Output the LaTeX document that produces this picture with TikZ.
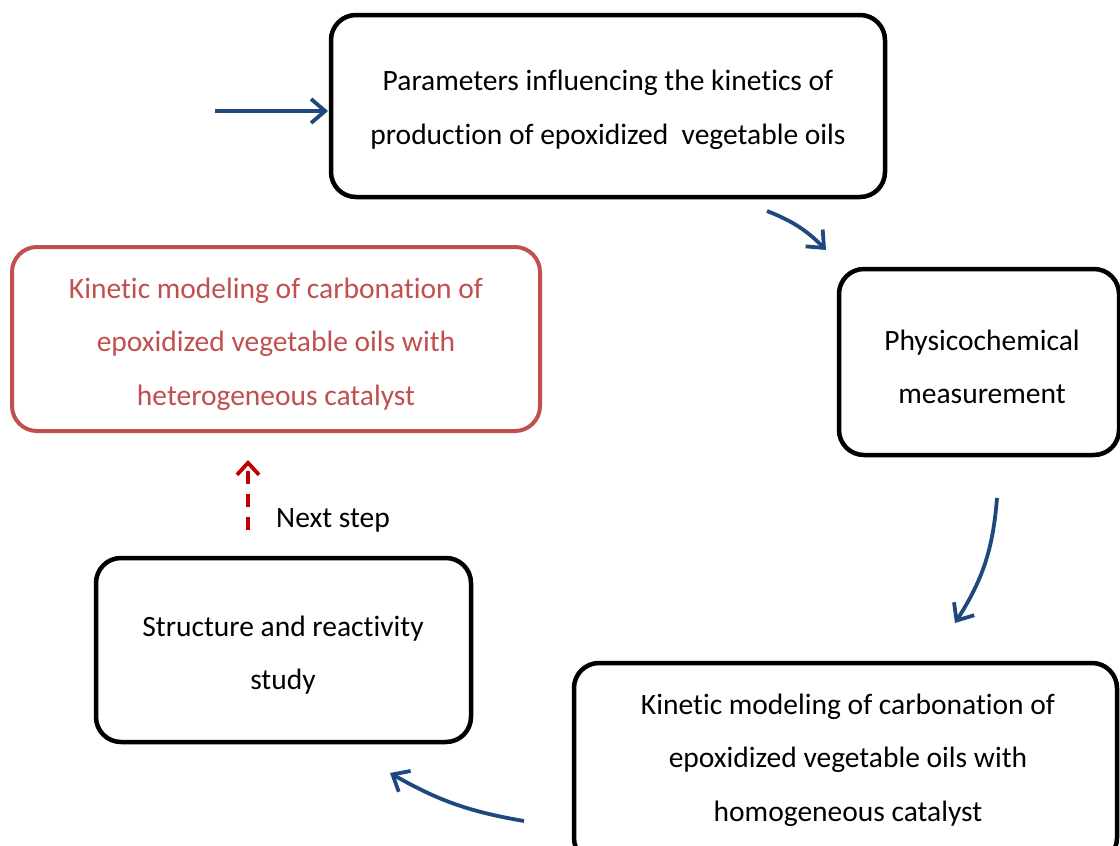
\documentclass[tikz,border=0pt]{standalone}
\usepackage{fontspec}
\setmainfont[Ligatures=NoCommon]{Carlito}
\usetikzlibrary{arrows.meta}
\definecolor{boxred}{HTML}{C0504D}
\definecolor{arrblue}{HTML}{1F497D}
\definecolor{dashred}{HTML}{C00000}
\begin{document}
\begin{tikzpicture}[x=1pt,y=-1pt,
  box/.style={draw=black,line width=4.5pt,rounded corners=25pt,align=center,inner sep=0pt},
  flow/.style={draw=arrblue,line width=3.8pt,-{Straight Barb[length=14pt,width=24pt]}},
  txt/.style={font=\fontsize{29.5}{53.5}\selectfont,inner sep=0pt}]
\useasboundingbox (0,0) rectangle (1120,846);
\clip (0,0) rectangle (1120,846);
\node[box,minimum width=554pt,minimum height=182pt] (top) at (608,106) {};
\node[txt,align=center] (toptxt) at (608,110) {Parameters influencing the kinetics of\\production of epoxidized\ \ vegetable oils};
\node[box,minimum width=280pt,minimum height=186pt] (phys) at (979,362) {};
\node[txt,align=center] (phystxt) at (982,367) {Physicochemical\\measurement};
\node[box,minimum width=543pt,minimum height=200pt] (bot) at (845.5,763) {};
\node[txt,align=center] (bottxt) at (848,760) {Kinetic modeling of carbonation of\\epoxidized vegetable oils with\\homogeneous catalyst};
\node[box,minimum width=375pt,minimum height=184pt] (struct) at (283.5,650) {};
\node[txt,align=center] (structtxt) at (283,655) {Structure and reactivity\\study};
\node[box,draw=boxred,line width=4pt,minimum width=528pt,minimum height=184pt] (red) at (276,339) {};
\node[txt,align=center,text=boxred] (redtxt) at (276,344) {Kinetic modeling of carbonation of\\epoxidized vegetable oils with\\heterogeneous catalyst};
\node[txt,anchor=west] (next) at (276,520) {Next step};
\coordinate (s0) at (215,111);
\coordinate (e0) at (328,111);
\coordinate (s1) at (767,211);
\coordinate (e1) at (826,250);
\coordinate (s2) at (997,498);
\coordinate (e2) at (955,623);
\coordinate (s3) at (524,821);
\coordinate (e3) at (390,773);
\coordinate (s4) at (248,530);
\coordinate (e4) at (248,460);
\draw[flow] (s0) -- (e0);
\draw[flow] (s1) to[bend left=12] (e1);
\draw[flow] (s2) to[bend left=14] (e2);
\draw[flow] (s3) to[bend left=10] (e3);
\draw[draw=dashred,line width=3.8pt,dash pattern=on 13pt off 10pt,-{Straight Barb[length=12pt,width=22pt]}] (s4) -- (e4);
\end{tikzpicture}
\end{document}
